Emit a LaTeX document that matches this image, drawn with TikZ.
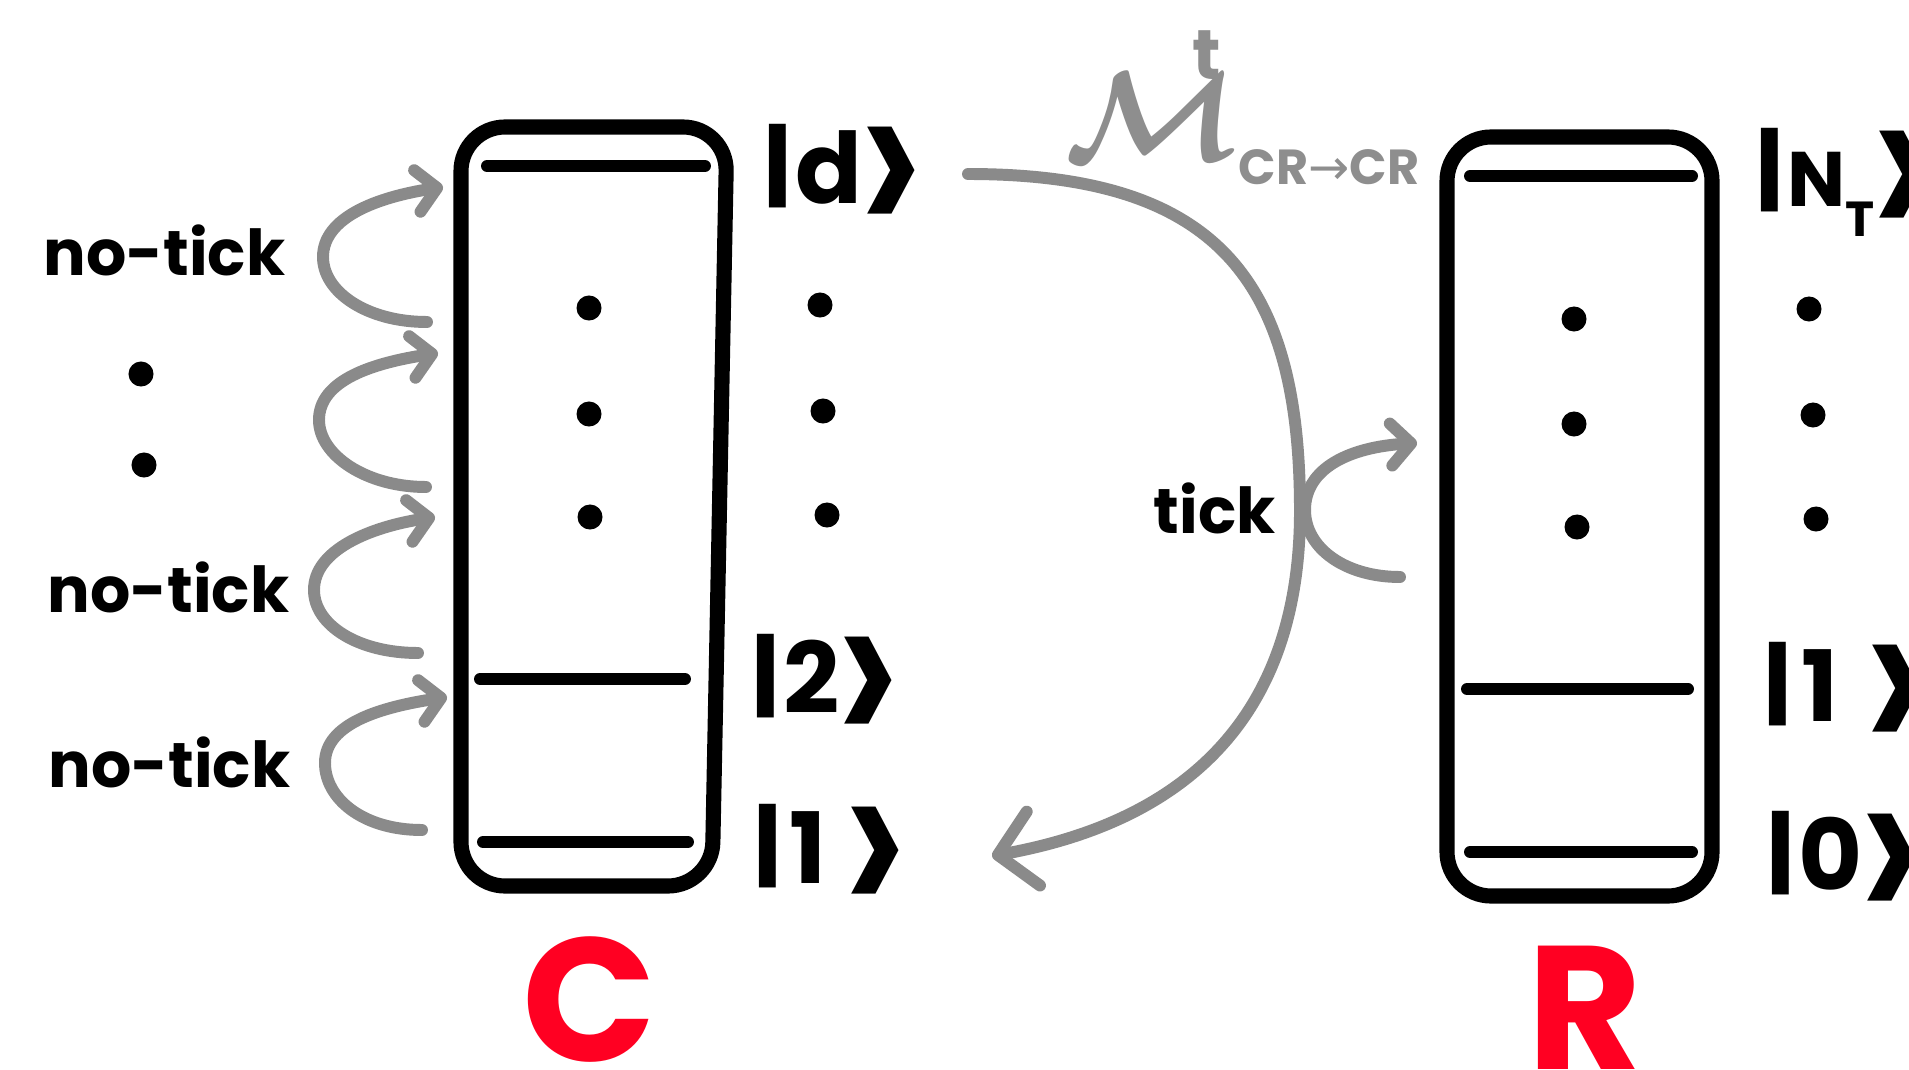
\documentclass[tikz,border=0pt]{standalone}
\usepackage{fontspec}
\setmainfont{Poppins}
\newfontfamily\symfont{DejaVu Sans}
\usepackage{graphicx}
\usetikzlibrary{arrows.meta,calc}
\definecolor{arrowgray}{HTML}{8A8A8A}
\definecolor{labelgray}{HTML}{8E8E8E}
\definecolor{cred}{HTML}{FF0022}
\newcommand\ketz[1]{\raisebox{0.07em}{\scalebox{1}[0.9]{|}}\hspace{0.03em}#1\hspace{-0.02em}\raisebox{-0.37em}{\scalebox{1.15}[2.0]{>}}}
\begin{document}
\begin{tikzpicture}[x=0.01cm,y=-0.01cm,
  boxline/.style={line width=4.3pt, rounded corners=0.44cm},
  level/.style={line width=3.4pt, line cap=round},
  dotm/.style={circle, fill=black, inner sep=0pt, minimum size=0.25cm},
  loopar/.style={draw=arrowgray, line width=3.4pt, line cap=round, -{Straight Barb[round,length=2.0mm,width=4.2mm]}},
  bigar/.style={draw=arrowgray, line width=3.4pt, line cap=round, -{Straight Barb[round,length=3.6mm,width=7.5mm]}},
  lab/.style={font=\fontsize{18}{18}\selectfont\bfseries, inner sep=0pt, anchor=base west},
  ketl/.style={font=\fontsize{28}{28}\selectfont\bfseries, inner sep=0pt, anchor=base west},
  sysl/.style={font=\fontsize{50}{50}\selectfont\bfseries, text=cred, inner sep=0pt}]
\useasboundingbox[fill=white] (0,0) rectangle (1909,1070);

% box C
\draw[boxline] (461,127) -- (727,127) -- (712,886) -- (461,886) -- cycle;
\draw[level] (487,166) -- (705,166);
\draw[level] (480,679) -- (685,679);
\draw[level] (483,842) -- (688,842);
% box R
\draw[boxline] (1447,137) -- (1712,137) -- (1712,896) -- (1447,896) -- cycle;
\draw[level] (1470,176) -- (1692,176);
\draw[level] (1467,689) -- (1688,689);
\draw[level] (1470,852) -- (1692,852);

% dots
\node[dotm] (cd1) at (589,308) {};
\node[dotm] (cd2) at (589,414) {};
\node[dotm] (cd3) at (590,517) {};
\node[dotm] (kd1) at (820,305) {};
\node[dotm] (kd2) at (823,411) {};
\node[dotm] (kd3) at (827,515) {};
\node[dotm] (rd1) at (1574,319) {};
\node[dotm] (rd2) at (1574,424) {};
\node[dotm] (rd3) at (1577,527) {};
\node[dotm] (rk1) at (1809,309) {};
\node[dotm] (rk2) at (1813,415) {};
\node[dotm] (rk3) at (1816,519) {};
\node[dotm] (ld1) at (141,374) {};
\node[dotm] (ld2) at (144,465) {};

% labels
\node[lab] (nt1) at (43,275) {no-tick};
\node[lab] (nt2) at (47,612) {no-tick};
\node[lab] (nt3) at (48,787) {no-tick};
\node[lab] (tick) at (1153,533) {tick};

% kets
\node[ketl] (kd) at (763,203) {\ketz{d}};
\node[ketl] (k2) at (751,713) {\ketz{2}};
\node[ketl] (k1) at (753,883) {\ketz{\hspace{0.04em}1\hspace{0.2em}}};
\node[ketl] (kN) at (1755,207) {\ketz{{\fontsize{22}{22}\selectfont N}\raisebox{-0.3em}{\fontsize{14}{14}\selectfont T}}};
\node[ketl] (kR1) at (1763,721) {\ketz{\hspace{0.06em}1\hspace{0.3em}}};
\node[ketl] (kR0) at (1766,890) {\ketz{0}};

% system labels
\node[sysl] (C) at (589,1000) {C};
\node[sysl] (R) at (1585,1008) {R};

% map label
\node[text=labelgray, inner sep=0pt] (mlab) at (1152,117)
  {\scalebox{1.46}{\fontsize{24.88}{24.88}\selectfont\boldmath$\mathcal{M}$}};
\node[text=labelgray, font=\fontsize{20}{20}\selectfont\bfseries, inner sep=0pt, anchor=base west] (msup) at (1192,80) {t};
\node[text=labelgray, font=\fontsize{14}{14}\selectfont\bfseries, inner sep=0pt, anchor=base west] (msub) at (1238,185) {CR{\symfont\mdseries →}CR};

% loop arrows
\coordinate (l1b) at (427,322); \coordinate (l1l) at (323,257); \coordinate (l1t) at (443,187);
\coordinate (l2b) at (426,487); \coordinate (l2l) at (319,420); \coordinate (l2t) at (438,353);
\coordinate (l3b) at (418,653); \coordinate (l3l) at (314,590); \coordinate (l3t) at (435,517);
\coordinate (l4b) at (422,830); \coordinate (l4l) at (325,763); \coordinate (l4t) at (447,697);
\foreach \i in {1,2,3,4} {
  \draw[loopar] (l\i b) .. controls ($(l\i b)+(-60,0)$) and ($(l\i l)+(0,35)$) .. (l\i l)
     .. controls ($(l\i l)+(0,-40)$) and ($(l\i t)+(-65,10)$) .. (l\i t);
}

% main arrow
\coordinate (mstart) at (968,174);
\coordinate (mright) at (1300,511);
\coordinate (mtip) at (992,856);
\draw[bigar] (mstart) .. controls (1218,174) and (1300,281) .. (mright)
   .. controls (1300,711) and (1192,820) .. (mtip);

% tick arrow
\coordinate (tb) at (1400,577);
\coordinate (tl) at (1305,510);
\coordinate (tt) at (1417,443);
\draw[loopar] (tb) .. controls (1345,577) and (1305,548) .. (tl)
   .. controls (1305,468) and (1350,447) .. (tt);
\end{tikzpicture}
\end{document}
